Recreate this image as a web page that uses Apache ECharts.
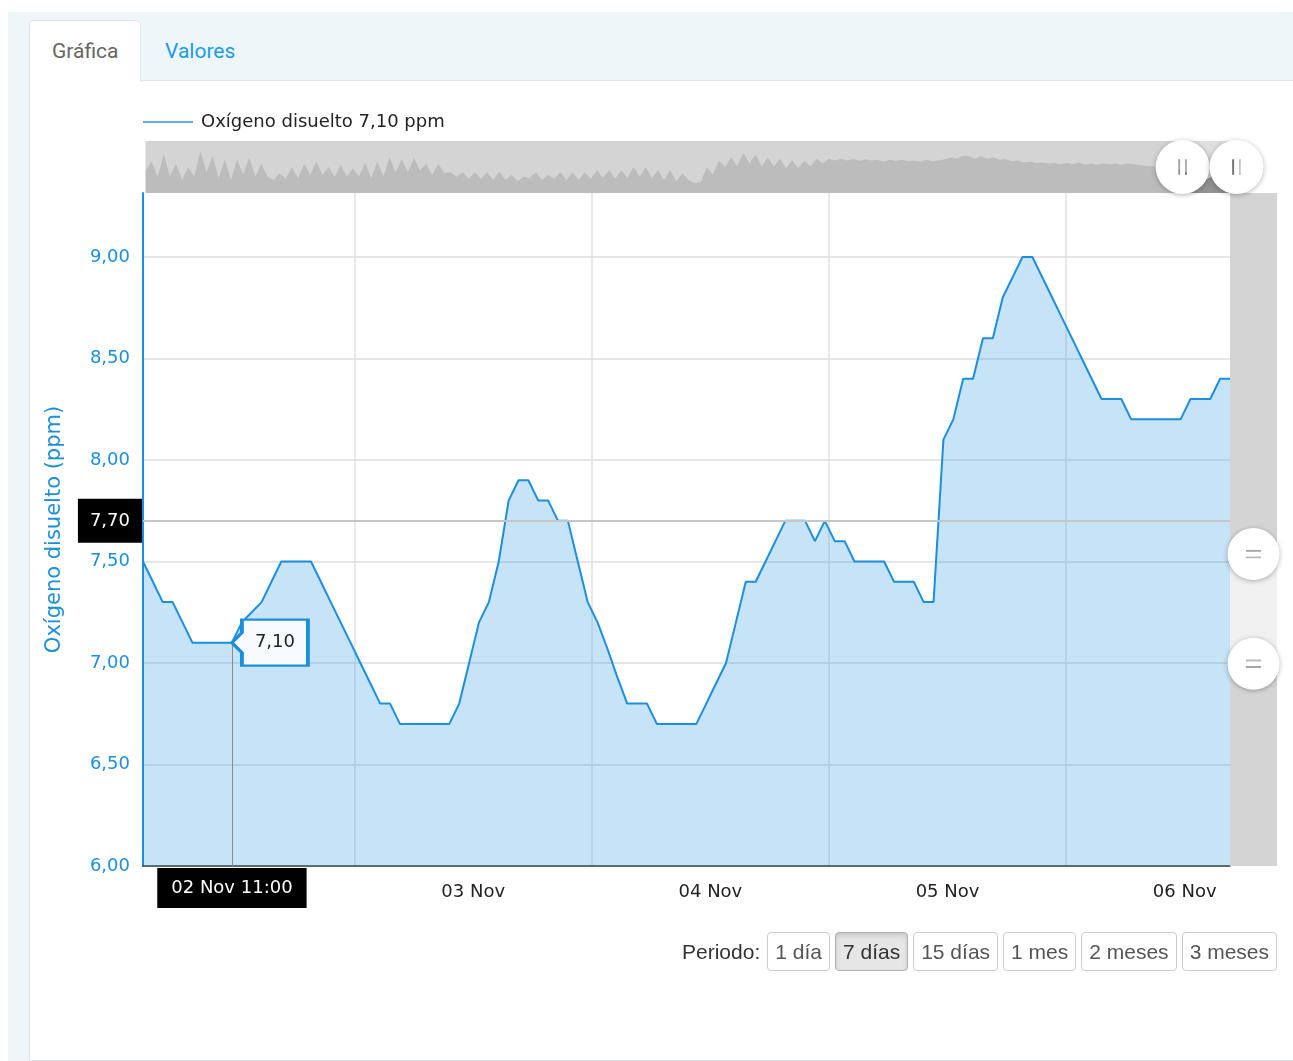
<!DOCTYPE html>
<html>
<head>
<meta charset="utf-8">
<script src="https://cdn.jsdelivr.net/npm/echarts@6/dist/echarts.min.js"></script>
<style>
html,body{margin:0;padding:0;width:1293px;height:1061px;overflow:hidden;background:#fff;font-family:Roboto,sans-serif;}
#frame{position:absolute;left:8px;top:12px;right:0;bottom:0;background:#eff6f9;}
#panel{position:absolute;left:29px;top:80px;right:0;height:981px;background:#fff;border-left:1px solid #dfe5e8;border-top:1px solid #dfe5e8;border-bottom:1px solid #dfe5e8;box-sizing:border-box;}
#tab1{position:absolute;left:29px;top:20px;width:112px;height:62px;background:#fff;border:1px solid #dfe5e8;border-bottom:none;border-radius:5px 5px 0 0;box-sizing:border-box;}
.tabtxt{position:absolute;top:36px;font-size:21px;line-height:30px;white-space:nowrap;}
#chart{position:absolute;left:0;top:0;width:1293px;height:1061px;}
#period{position:absolute;right:16px;top:932px;display:flex;gap:5px;align-items:center;font-family:'Liberation Sans',Arial,sans-serif;font-size:21px;z-index:5;}
#period .lbl{color:#333;margin-right:2px;}
#period .btn{height:39px;line-height:37px;padding:0 7px;border:1px solid #ccc;border-radius:4px;color:#555;background:#fff;box-sizing:border-box;}
#period .btn.active{background:#e6e6e6;border-color:#adadad;color:#333;box-shadow:inset 0 3px 5px rgba(0,0,0,.125);}
</style>
</head>
<body>
<div id="frame"></div>
<div id="panel"></div>
<div id="tab1"></div>
<div class="tabtxt" style="left:52px;color:#666;">Gráfica</div>
<div class="tabtxt" style="left:165px;color:#1a9be8;">Valores</div>
<div id="chart"></div>
<div id="period"></div>
<script>
// ---------------- data ----------------
const MONTHS = ['Ene','Feb','Mar','Abr','May','Jun','Jul','Ago','Sep','Oct','Nov','Dic'];
const seriesName = 'Oxígeno disuelto';
const unit = 'ppm';
const yAxisTitle = 'Oxígeno disuelto (ppm)';
const startTime = new Date(2023, 10, 2, 2, 35).getTime(); // first hourly reading
const stepHours = 1;
// hourly readings (ppm)
const oxygen = [
  7.5,7.4,7.3,7.3,7.2,7.1,7.1,7.1,7.1,7.1,
  7.2,7.25,7.3,7.4,7.5,7.5,7.5,7.5,7.4,7.3,
  7.2,7.1,7.0,6.9,6.8,6.8,6.7,6.7,6.7,6.7,
  6.7,6.7,6.8,7.0,7.2,7.3,7.5,7.8,7.9,7.9,
  7.8,7.8,7.7,7.7,7.5,7.3,7.2,7.07,6.93,6.8,
  6.8,6.8,6.7,6.7,6.7,6.7,6.7,6.8,6.9,7.0,
  7.2,7.4,7.4,7.5,7.6,7.7,7.7,7.7,7.6,7.7,
  7.6,7.6,7.5,7.5,7.5,7.5,7.4,7.4,7.4,7.3,
  7.3,8.1,8.2,8.4,8.4,8.6,8.6,8.8,8.9,9.0,
  9.0,8.9,8.8,8.7,8.6,8.5,8.4,8.3,8.3,8.3,
  8.2,8.2,8.2,8.2,8.2,8.2,8.3,8.3,8.3,8.4,
  8.4
];
const pointerIndex = 9;      // highlighted reading (02 Nov 11:00)
const pointerYValue = 7.70;  // horizontal crosshair value
const yMin = 6, yMax = 9.315, yInterval = 0.5;
const labelShiftHours = 12;  // day labels are centred at noon
// navigator overview (12-hour samples, ending with the displayed window)
const overviewStepHours = 12;
const overview = [
  7.56,8.18,7.08,8.75,7.08,8.04,6.84,7.80,7.08,9.00,
  7.41,8.61,6.99,8.38,6.84,8.38,7.23,8.51,7.08,8.04,
  7.08,6.84,7.33,6.94,7.80,6.94,8.04,7.23,8.18,7.23,
  7.80,7.08,7.94,7.08,7.70,7.08,8.14,6.99,8.18,7.08,
  8.51,7.41,8.38,7.41,8.46,7.56,8.04,7.23,8.04,7.33,
  7.41,7.08,7.41,6.94,7.41,6.94,7.41,6.84,7.46,6.84,
  7.23,6.75,7.08,6.99,7.41,6.84,7.23,6.94,7.41,6.84,
  7.41,6.84,7.41,6.94,7.56,6.99,7.56,6.94,7.56,6.99,
  7.80,7.08,7.80,6.99,7.56,6.84,7.56,6.75,7.33,6.84,
  6.60,6.70,7.80,7.23,8.28,7.80,8.51,7.89,
  8.86,8.05,8.73,7.83,8.50,7.83,8.41,7.70,8.28,7.70,
  8.28,7.83,8.41,8.05,8.41,8.28,8.41,8.28,
  8.41,8.24,8.37,8.28,8.33,8.19,8.33,8.24,8.33,8.24,
  8.28,8.19,8.33,8.24,8.28,8.37,8.50,8.41,8.63,8.59,
  8.41,8.59,8.41,8.50,8.33,8.37,8.24,8.28,8.14,8.19,
  8.10,8.14,8.05,8.10,8.01,8.10,8.01,8.14,7.96,8.05,
  7.96,8.05,8.01,8.05,7.96,8.05,8.01,7.96,7.87,7.83,
  7.78,7.78,7.74,7.70,
  7.5,7.3,6.8,7.5,6.9,7.2,7.5,8.4,8.4,8.3
];
const verticalZoom = [29.9, 46.5]; // vertical range selector (percent)
const periods = ['1 día','7 días','15 días','1 mes','2 meses','3 meses'];
const activePeriod = '7 días';
const periodLabel = 'Periodo:';

// ---------------- helpers ----------------
const H = 3600 * 1000;
const pad2 = n => (n < 10 ? '0' : '') + n;
const fmtNum = v => Number(v).toFixed(2).replace('.', ',');
const fmtDay = t => { const d = new Date(t); return pad2(d.getDate()) + ' ' + MONTHS[d.getMonth()]; };
const fmtDayHour = t => { const d = new Date(t); return fmtDay(t) + ' ' + pad2(d.getHours()) + ':00'; };

const times = oxygen.map((v, i) => startTime + i * stepHours * H);
const mainData = oxygen.map((v, i) => [times[i], v]);
const endTime = times[times.length - 1];
const ovData = overview.map((v, i) => [endTime - (overview.length - 1 - i) * overviewStepHours * H, v]);

// period buttons
const per = document.getElementById('period');
const lbl = document.createElement('span'); lbl.className = 'lbl'; lbl.textContent = periodLabel; per.appendChild(lbl);
periods.forEach(p => { const b = document.createElement('span'); b.className = 'btn' + (p === activePeriod ? ' active' : ''); b.textContent = p; per.appendChild(b); });

const BLUE = '#1a8fe0';
const FONT = 'DejaVu Sans';
const FS = 18;
const handleIcon = 'path://M0,-28A28,28,0,1,1,0,28A28,28,0,1,1,0,-28Z M-4.5,-8L-4.5,8L-2.5,8L-2.5,-8Z M2.5,-8L2.5,8L4.5,8L4.5,-8Z';

const chart = echarts.init(document.getElementById('chart'));
chart.setOption({
  animation: false,
  textStyle: { fontFamily: FONT },
  legend: {
    data: [seriesName], left: 143, top: 113, padding: 0,
    icon: 'rect', itemWidth: 50, itemHeight: 2,
    itemStyle: { color: '#5ab4ec' },
    formatter: n => n + ' ' + fmtNum(oxygen[pointerIndex]) + ' ' + unit,
    textStyle: { fontSize: FS, color: '#222', padding: [0, 0, 0, 3], fontFamily: FONT }
  },
  grid: [
    { left: 143, right: 63, top: 193, bottom: 195 },
    { left: 143, top: 141, width: 1092, height: 52 }
  ],
  xAxis: [
    {
      type: 'time', gridIndex: 0, min: startTime, max: endTime,
      minInterval: 24 * H, maxInterval: 24 * H,
      axisLine: { show: true, lineStyle: { color: '#333', width: 1.5 } },
      axisTick: { show: false },
      axisLabel: { show: false },
      splitLine: { show: true, showMinLine: false, showMaxLine: false, lineStyle: { color: '#e0e0e0', width: 1.5 } },
      axisPointer: {
        show: true, type: 'line', snap: false, status: 'show', value: times[pointerIndex], triggerTooltip: false,
        lineStyle: { color: '#8a8a8a', width: 1, type: 'solid', opacity: 0 },
        label: { show: true, formatter: p => fmtDayHour(p.value), backgroundColor: '#000', color: '#fff', fontSize: FS, fontFamily: FONT, padding: [11, 14, 11, 14], margin: 2, borderRadius: 0, shadowBlur: 0 }
      }
    },
    { type: 'time', gridIndex: 1, show: false, axisPointer: { show: false } },
    {
      // label axis: same span shifted by 12 h so day names sit at noon
      type: 'time', gridIndex: 0, position: 'bottom',
      min: startTime - labelShiftHours * H, max: endTime - labelShiftHours * H,
      minInterval: 24 * H, maxInterval: 24 * H,
      axisLine: { show: false }, axisTick: { show: false }, splitLine: { show: false },
      axisLabel: { formatter: v => fmtDay(v), color: '#222', fontSize: FS, margin: 17, fontFamily: FONT, showMinLabel: false, showMaxLabel: false },
      axisPointer: { show: false }
    }
  ],
  yAxis: [
    {
      type: 'value', gridIndex: 0, min: yMin, max: yMax, interval: yInterval,
      name: yAxisTitle, nameLocation: 'middle', nameGap: 78,
      nameTextStyle: { color: BLUE, fontSize: 21, fontFamily: FONT },
      axisLine: { show: true, lineStyle: { color: BLUE, width: 2 } },
      axisTick: { show: false },
      axisLabel: { formatter: v => fmtNum(v), color: BLUE, fontSize: FS, margin: 13, showMaxLabel: false, fontFamily: FONT },
      splitLine: { show: true, showMinLine: false, showMaxLine: false, lineStyle: { color: '#dedede', width: 1.5 } },
      axisPointer: {
        show: true, type: 'line', status: 'show', value: pointerYValue, triggerTooltip: false,
        lineStyle: { color: '#c6c6c6', width: 2, type: 'solid' },
        label: { show: true, formatter: p => fmtNum(p.value), backgroundColor: '#000', color: '#fff', fontSize: FS, fontFamily: FONT, padding: [13, 12, 13, 12], margin: 1, borderRadius: 0, shadowBlur: 0 }
      }
    },
    { type: 'value', gridIndex: 1, show: false, scale: true, axisPointer: { show: false } }
  ],
  dataZoom: [
    {
      type: 'slider', xAxisIndex: 1, filterMode: 'none',
      left: 143, top: 141, width: 1092, height: 52,
      startValue: startTime, endValue: endTime,
      backgroundColor: '#d4d4d4', borderColor: 'transparent', borderRadius: 0,
      fillerColor: 'rgba(255,255,255,0.25)',
      dataBackground: { lineStyle: { opacity: 0 }, areaStyle: { color: '#bcbcbc', opacity: 1 } },
      selectedDataBackground: { lineStyle: { opacity: 0 }, areaStyle: { color: '#6e6e6e', opacity: 1 } },
      handleIcon: handleIcon, handleSize: 54,
      handleStyle: { color: '#fff', borderColor: 'rgba(0,0,0,0)', borderWidth: 0, shadowBlur: 5, shadowColor: 'rgba(0,0,0,0.3)', shadowOffsetY: 1 },
      showDetail: false, brushSelect: false, moveHandleSize: 0
    },
    {
      type: 'slider', yAxisIndex: 1, orient: 'vertical', filterMode: 'none',
      left: 1230, top: 193, width: 47, height: 673,
      start: verticalZoom[0], end: verticalZoom[1],
      showDataShadow: false,
      backgroundColor: '#d4d4d4', borderColor: 'transparent', borderRadius: 0,
      fillerColor: 'rgba(255,255,255,0.65)',
      handleIcon: handleIcon, handleSize: 52,
      handleStyle: { color: '#fff', borderColor: 'rgba(0,0,0,0)', borderWidth: 0, shadowBlur: 5, shadowColor: 'rgba(0,0,0,0.3)', shadowOffsetY: 1 },
      showDetail: false, brushSelect: false, moveHandleSize: 0
    }
  ],
  series: [
    {
      name: seriesName, type: 'line', xAxisIndex: 0, yAxisIndex: 0,
      data: mainData, symbol: 'none',
      lineStyle: { color: BLUE, width: 2 },
      itemStyle: { color: BLUE },
      areaStyle: { color: BLUE, opacity: 0.25 },
      markLine: {
        silent: true, symbol: ['none', 'none'],
        lineStyle: { color: '#8a8a8a', width: 1, type: 'solid' },
        label: { show: false },
        data: [[{ coord: [times[pointerIndex], oxygen[pointerIndex]] }, { coord: [times[pointerIndex], yMin] }]]
      },
      markPoint: {
        silent: true,
        symbol: 'path://M0,23L10,13L10,0L76,0L76,46L10,46L10,33Z',
        symbolSize: [76, 46], symbolOffset: ['50%', 0],
        itemStyle: { color: '#f7fbfe', borderColor: BLUE, borderWidth: 3 },
        label: { show: true, formatter: p => fmtNum(p.value), color: '#222', fontSize: FS, fontFamily: FONT, offset: [5, 0] },
        data: [{ coord: [times[pointerIndex], oxygen[pointerIndex]], value: oxygen[pointerIndex] }]
      }
    },
    {
      name: 'overview', type: 'line', xAxisIndex: 1, yAxisIndex: 1,
      data: ovData, symbol: 'none', silent: true,
      lineStyle: { opacity: 0 }, itemStyle: { opacity: 0 }
    }
  ]
});
</script>
</body>
</html>
